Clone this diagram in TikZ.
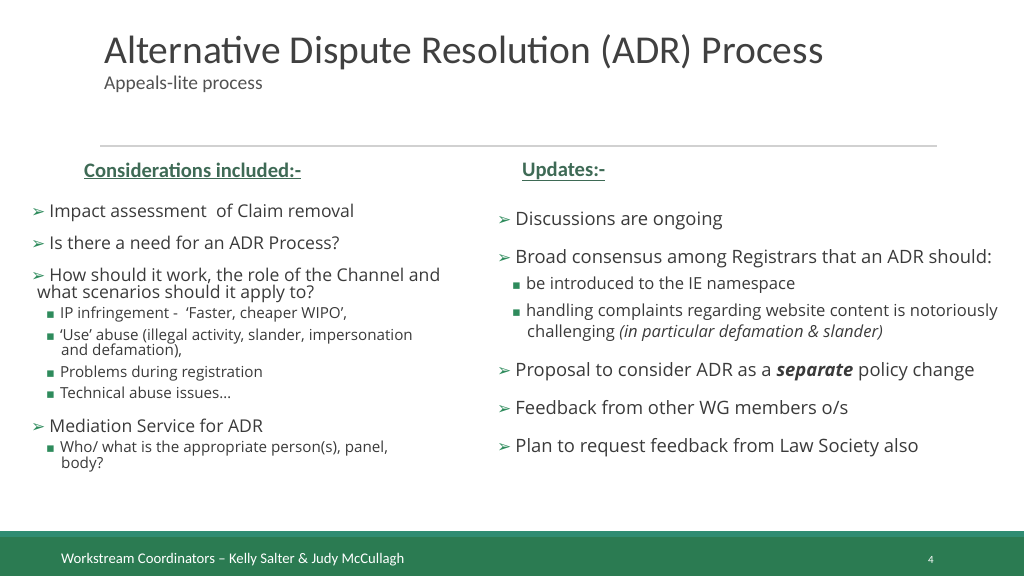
\documentclass[tikz,border=0pt]{standalone}
\usepackage{fontspec}
\setmainfont{Open Sans}
\newfontfamily\calib{Carlito}
\newfontfamily\symb{DejaVu Sans}
\usepackage{xcolor}
\definecolor{footgreen}{HTML}{2B7B52}
\definecolor{footline}{HTML}{2F8C72}
\definecolor{headgreen}{HTML}{3E6A55}
\definecolor{bulgreen}{HTML}{2E8B5C}
\definecolor{bodygrey}{HTML}{3A3A3A}
\newcommand{\arr}{{\symb\color{bulgreen}\fontsize{17}{17}\selectfont ➢}}
\newcommand{\sqb}{{\symb\color{bulgreen}\fontsize{13}{13}\selectfont ▪}}
\tikzset{
  main/.style={anchor=base west, inner sep=0pt, text=bodygrey, font=\fontsize{17.6}{17.6}\selectfont},
  sub/.style={anchor=base west, inner sep=0pt, text=bodygrey, font=\fontsize{15.2}{15.2}\selectfont},
  rmain/.style={main, font=\fontsize{18.4}{18.4}\selectfont},
  rsub/.style={sub, font=\fontsize{16.6}{16.6}\selectfont},
  head/.style={anchor=base west, inner sep=0pt, text=headgreen, font=\calib\bfseries\fontsize{20.6}{20.6}\selectfont},
}
\begin{document}
\begin{tikzpicture}[x=1pt,y=-1pt]
    \useasboundingbox (0,0) rectangle (1024,576);
    % title
    \path (104,63) node [anchor=base west, inner sep=0pt, text=black!75, font=\calib\fontsize{39.5}{39.5}\selectfont] (title) {Alternative Dispute Resolution (ADR) Process};
    \path (104,89) node [anchor=base west, inner sep=0pt, text=black!68, font=\calib\fontsize{19.5}{19.5}\selectfont] (subtitle) {Appeals-lite process};
    \draw [black!18, line width=1.2pt] (100,146) -- (937,146);
    % left column
    \path (84,177) node [head] (lhead) {\underline{Considerations included:-}};
    \path (31,217) node [main] (l1) {\arr\hspace{4pt}Impact assessment\ \ of Claim removal};
    \path (31,249) node [main] (l2) {\arr\hspace{4pt}Is there a need for an ADR Process?};
    \path (31,281) node [main] (l3) {\arr\hspace{4pt}How should it work, the role of the Channel and};
    \path (37,298) node [main] (l3b) {what scenarios should it apply to?};
    \path (46,318) node [sub] (s1) {\sqb\hspace{5pt}IP infringement -\ \ ‘Faster, cheaper WIPO’,};
    \path (46,340) node [sub] (s2) {\sqb\hspace{5pt}‘Use’ abuse (illegal activity, slander, impersonation};
    \path (61,355) node [sub] (s2b) {and defamation),};
    \path (46,377) node [sub] (s3) {\sqb\hspace{5pt}Problems during registration};
    \path (46,398) node [sub] (s4) {\sqb\hspace{5pt}Technical abuse issues…};
    \path (31,432) node [main] (l4) {\arr\hspace{4pt}Mediation Service for ADR};
    \path (46,452) node [sub] (s5) {\sqb\hspace{5pt}Who/ what is the appropriate person(s), panel,};
    \path (61,468) node [sub] (s5b) {body?};
    % right column
    \path (522,176) node [head] (rhead) {\underline{Updates:-}};
    \path (497,225) node [rmain] (r1) {\arr\hspace{4pt}Discussions are ongoing};
    \path (497,263) node [rmain] (r2) {\arr\hspace{4pt}Broad consensus among Registrars that an ADR should:};
    \path (512,289) node [rsub] (t1) {\sqb\hspace{5pt}be introduced to the IE namespace};
    \path (512,316) node [rsub] (t2) {\sqb\hspace{5pt}handling complaints regarding website content is notoriously};
    \path (527,337) node [rsub] (t2b) {challenging \textit{(in particular defamation \& slander)}};
    \path (497,376) node [rmain] (r3) {\arr\hspace{4pt}Proposal to consider ADR as a \textbf{\textit{separate}} policy change};
    \path (497,414) node [rmain] (r4) {\arr\hspace{4pt}Feedback from other WG members o/s};
    \path (497,452) node [rmain] (r5) {\arr\hspace{4pt}Plan to request feedback from Law Society also};
    % footer
    \fill [footline] (0,531) rectangle (1024,537);
    \fill [footgreen] (0,537) rectangle (1024,576);
    \path (61,563) node [anchor=base west, inner sep=0pt, text=white, font=\calib\fontsize{14.7}{14.7}\selectfont] (foot) {Workstream Coordinators – Kelly Salter \& Judy McCullagh};
    \path (931,563) node [anchor=base, inner sep=0pt, text=white, font=\calib\fontsize{11}{11}\selectfont] (page) {4};
\end{tikzpicture}
\end{document}
